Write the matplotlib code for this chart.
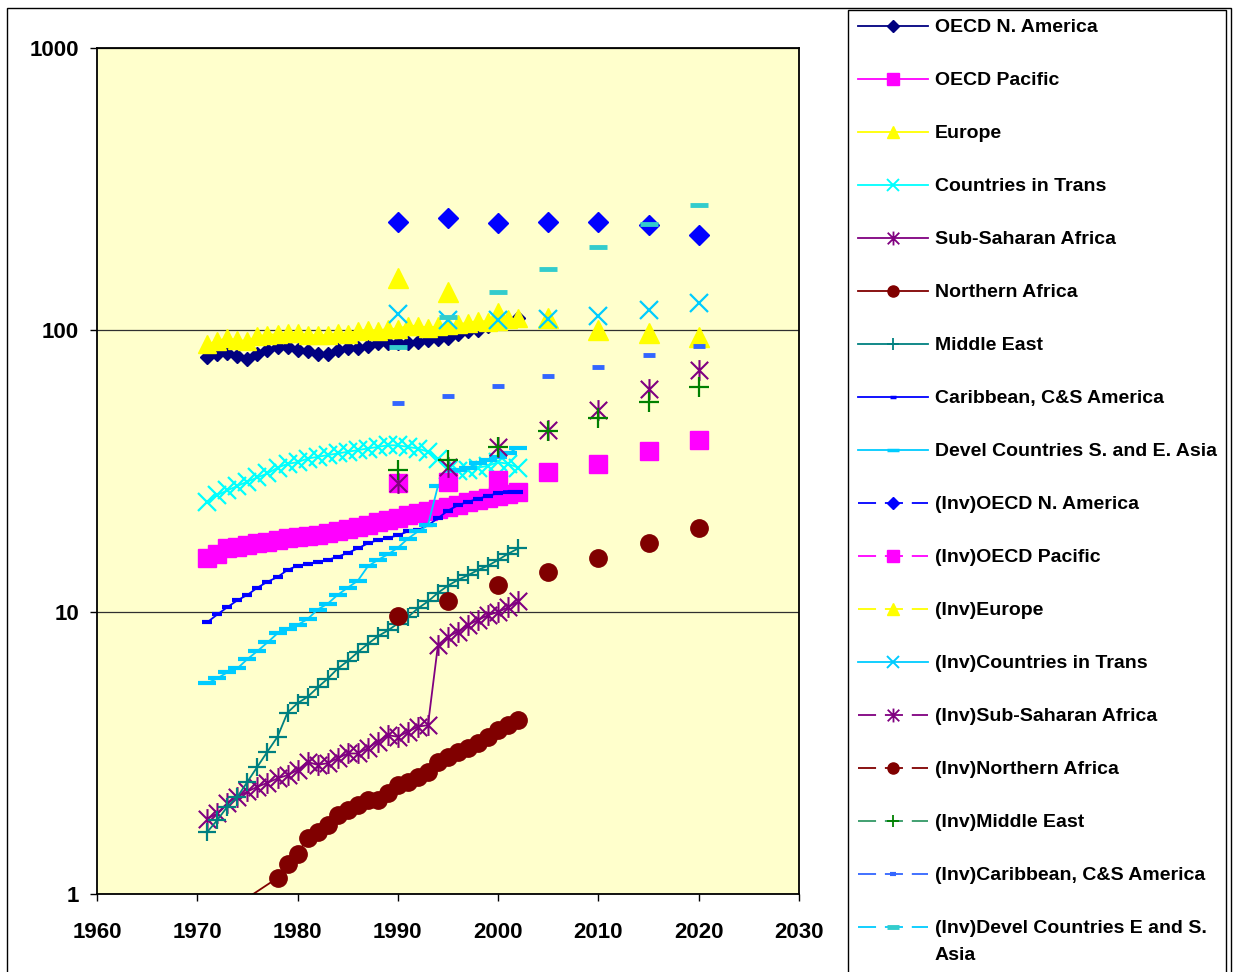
import numpy as np
import matplotlib
matplotlib.use('Agg')
import matplotlib.pyplot as plt
from matplotlib.lines import Line2D
from matplotlib.path import Path
from matplotlib.patches import Rectangle

plt.rcParams['font.family'] = ['Liberation Sans', 'DejaVu Sans']

# historical data, 1971-2002
years = list(range(1971, 2003))
na_hist = [80, 82, 83, 81, 79, 82, 85, 87, 87, 85, 84, 82, 82, 85, 86, 86,
           88, 90, 90, 90, 90, 91, 92, 93, 94, 97, 99, 100, 103, 106, 108, 110]
pac_hist = [15.5, 16, 16.8, 17, 17.3, 17.5, 17.7, 18, 18.3, 18.5, 18.6, 18.8, 19, 19.3, 19.7, 20,
            20.3, 20.8, 21.2, 21.6, 22, 22.4, 22.8, 23.2, 23.6, 24, 24.6, 25, 25.3, 25.8, 26.3, 26.6]
eur_hist = [89, 91.6, 93.5, 92, 91.6, 95.2, 96, 96.8, 97.5, 97.5, 96, 96, 96, 97.5, 97, 99.5,
            100, 99.5, 101, 101, 103.5, 103.5, 102, 103, 104, 105, 106, 108, 107, 108, 109, 110]
cit_hist = [24.5, 26, 27, 28, 29, 30, 31, 32.5, 33.5, 34, 35, 35.5, 36, 36.5, 37, 37.5,
            38, 38.5, 39, 39, 38.5, 38, 37, 35, 32, 31.5, 32, 32.5, 33, 34, 33.5, 32.5]
ssa_hist = [1.85, 1.93, 2.10, 2.21, 2.31, 2.40, 2.48, 2.57, 2.64, 2.75, 2.94, 2.87, 2.91, 3.03, 3.15, 3.15,
            3.29, 3.47, 3.66, 3.61, 3.76, 3.92, 3.97, 7.64, 8.17, 8.52, 9.0, 9.37, 9.75, 10.0, 10.4, 10.9]
naf_years = [1971] + list(range(1978, 2003))
naf_hist = [0.78, 1.14, 1.28, 1.39, 1.58, 1.66, 1.76, 1.91, 1.99, 2.07, 2.15, 2.15, 2.28, 2.44,
            2.50, 2.61, 2.71, 2.94, 3.07, 3.20, 3.29, 3.42, 3.61, 3.82, 3.97, 4.14]
me_hist = [1.66, 1.83, 2.04, 2.21, 2.50, 2.83, 3.2, 3.61, 4.4, 4.75, 5.0, 5.4, 5.8, 6.3, 6.7, 7.2,
           7.7, 8.2, 8.6, 9.1, 9.6, 10.3, 10.9, 11.7, 12.4, 13.0, 13.5, 14.1, 14.6, 15.3, 16.1, 16.8]
car_hist = [9.2, 9.8, 10.4, 11.0, 11.5, 12.2, 12.8, 13.3, 14.1, 14.6, 14.8, 15.0, 15.3, 15.7, 16.2, 16.8,
            17.5, 18.0, 18.3, 18.7, 19.3, 19.5, 20.3, 21.5, 22.9, 23.9, 24.6, 25.2, 25.8, 26.4, 26.6, 26.7]
asia_hist = [5.59, 5.82, 6.11, 6.31, 6.81, 7.27, 7.8, 8.4, 8.68, 9.0, 9.44, 10.2, 10.7, 11.5, 12.2, 12.9,
             14.5, 15.3, 16.0, 16.9, 18.2, 19.3, 20.3, 28.0, 30.5, 31.9, 32.5, 33.7, 34.5, 35.5, 36.5, 38.3]

# (Inv) projections
inv_years = [1990, 1995, 2000, 2005, 2010, 2015, 2020]
na_inv = [242, 249, 239, 242, 242, 236, 217]
pac_inv = [28.6, 29.0, 29.5, 31.4, 33.5, 37.2, 40.7]
eur_inv = [153, 136, 115, 110, 100, 97.3, 94.7]
cit_inv = [114, 108.5, 108.5, 109, 112, 118, 125]
ssa_inv = [28.6, 32.8, 38.4, 44.2, 52.0, 61.6, 72.1]
naf_inv = [9.68, 10.9, 12.5, 13.9, 15.5, 17.6, 19.9]
me_inv = [31.9, 34.6, 38.6, 44.0, 48.6, 55.7, 63.0]
car_inv = [55, 58.5, 63.3, 68.7, 74.1, 81.5, 88]
asia_inv = [86.9, 111.5, 136.8, 164.5, 196.5, 237, 277.5]

labels = ['OECD N. America', 'OECD Pacific', 'Europe', 'Countries in Trans',
          'Sub-Saharan Africa', 'Northern Africa', 'Middle East',
          'Caribbean, C&S America', 'Devel Countries S. and E. Asia',
          '(Inv)OECD N. America', '(Inv)OECD Pacific', '(Inv)Europe',
          '(Inv)Countries in Trans', '(Inv)Sub-Saharan Africa', '(Inv)Northern Africa',
          '(Inv)Middle East', '(Inv)Caribbean, C&S America',
          '(Inv)Devel Countries E and S.']
label_tail = 'Asia'

y_ticks = [1, 10, 100, 1000]
y_labels = ['1', '10', '100', '1000']
x_ticks = [1960, 1970, 1980, 1990, 2000, 2010, 2020, 2030]

W, H = 1237, 972

# excel style asterisk: X plus a vertical bar
star = Path([(-1, -1), (1, 1), (-1, 1), (1, -1), (0, -1.2), (0, 1.2)],
            [Path.MOVETO, Path.LINETO, Path.MOVETO, Path.LINETO, Path.MOVETO, Path.LINETO])

fig = plt.figure(figsize=(W / 100, H / 100), dpi=100)
ax = fig.add_axes([97 / W, 1 - 894 / H, 702 / W, 846 / H])
ax.set_facecolor('#FFFFCC')

lw = 1.3
# historical series
ax.plot(years, na_hist, color='#000080', lw=lw, marker='D', ms=7.5, mec='#000080')
ax.plot(years, pac_hist, color='#FF00FF', lw=lw, marker='s', ms=12.5, mec='#FF00FF')
ax.plot(years, eur_hist, color='#FFFF00', lw=lw, marker='^', ms=13.5, mec='#FFFF00')
ax.plot(years, cit_hist, color='#00FFFF', lw=lw, marker='x', ms=13, mew=1.6)
ax.plot(years, ssa_hist, color='#800080', lw=lw, marker=star, ms=15, mew=1.5)
ax.plot(naf_years, naf_hist, color='#800000', lw=lw, marker='o', ms=12.5)
ax.plot(years, me_hist, color='#008080', lw=lw, marker='+', ms=13, mew=1.6)
ax.plot(years, car_hist, color='#0000FF', lw=lw, marker='_', ms=7.5, mew=3)
ax.plot(years, asia_hist, color='#00CCFF', lw=lw, marker='_', ms=13, mew=3)

# projections, markers only
ax.plot(inv_years, na_inv, ls='none', color='#0000FF', marker='D', ms=10)
ax.plot(inv_years, pac_inv, ls='none', color='#FF00FF', marker='s', ms=12.5)
ax.plot(inv_years, eur_inv, ls='none', color='#FFFF00', marker='^', ms=14)
ax.plot(inv_years, cit_inv, ls='none', color='#00CCFF', marker='x', ms=13, mew=1.6)
ax.plot(inv_years, ssa_inv, ls='none', color='#800080', marker=star, ms=15, mew=1.5)
ax.plot(inv_years, naf_inv, ls='none', color='#800000', marker='o', ms=12.5)
ax.plot(inv_years, me_inv, ls='none', color='#008000', marker='+', ms=14, mew=1.6)
ax.plot(inv_years, car_inv, ls='none', color='#3366FF', marker='_', ms=8, mew=3.5)
ax.plot(inv_years, asia_inv, ls='none', color='#33CCCC', marker='_', ms=13, mew=3.5)

ax.set_yscale('log')
ax.set_ylim(1, 1000)
ax.set_xlim(1960, 2030)
ax.set_yticks(y_ticks)
ax.set_yticklabels(y_labels)
ax.yaxis.set_minor_locator(matplotlib.ticker.NullLocator())
ax.set_xticks(x_ticks)
ax.set_xticklabels([str(x) for x in x_ticks])
ax.tick_params(direction='out', length=5, width=1, labelsize=16)
ax.tick_params(axis='x', pad=15)
ax.tick_params(axis='y', pad=8)
for lab in ax.get_xticklabels() + ax.get_yticklabels():
    lab.set_fontweight('bold')
ax.yaxis.grid(True, color='#303030', lw=0.9)
ax.set_axisbelow(True)
for s in ax.spines.values():
    s.set_linewidth(1.3)

# legend handles
dash = (10, 4.9)
def h(color, marker, ms, ls='-', mfc=None, mew=1.0):
    return Line2D([0], [0], color=color, lw=1.3, ls=ls, marker=marker, ms=ms,
                  mfc=mfc or color, mec=mfc or color, mew=mew,
                  dashes=dash if ls == '--' else (None, None))

handles = [
    h('#000080', 'D', 6),
    h('#FF00FF', 's', 8),
    h('#FFFF00', '^', 9),
    h('#00FFFF', 'x', 8, mew=1.4),
    h('#800080', star, 10, mew=1.3),
    h('#800000', 'o', 8),
    h('#008080', '+', 9, mew=1.3),
    h('#0000FF', '_', 5, mew=2.5),
    h('#00CCFF', '_', 9, mew=2.5),
    h('#0000FF', 'D', 6, ls='--'),
    h('#FF00FF', 's', 8, ls='--'),
    h('#FFFF00', '^', 9, ls='--'),
    h('#00CCFF', 'x', 8, mew=1.4),
    h('#800080', star, 10, ls='--', mew=1.3),
    h('#800000', 'o', 8, ls='--'),
    h('#339966', '+', 9, ls='--', mfc='#008000', mew=1.3),
    h('#3366FF', '_', 5, ls='--', mew=3),
    h('#00CCFF', '_', 9, ls='--', mfc='#33CCCC', mew=3.5),
]

leg = fig.legend(handles, labels, loc='upper left',
                 bbox_to_anchor=(851 / W, 1 - 12 / H), bbox_transform=fig.transFigure,
                 frameon=False, borderaxespad=0, borderpad=0.35, labelspacing=1.82,
                 handlelength=3.6, handletextpad=0.35,
                 prop={'size': 14, 'weight': 'bold'})

# legend frame runs off the bottom of the chart, last label wraps
fig.canvas.draw()
last = leg.get_texts()[-1].get_window_extent()
fig.text(last.x0 / W, (last.y0 - 27) / H, label_tail, fontsize=14, fontweight='bold',
         ha='left', va='bottom')
fig.patches.append(Rectangle((848 / W, -0.01), (1226 - 848) / W, (H - 10) / H + 0.01,
                             transform=fig.transFigure, fill=False, ec='black', lw=1.0))

# outer chart border
fig.patches.append(Rectangle((7 / W, -0.01), 1224 / W, 1 - 8 / H + 0.01,
                             transform=fig.transFigure, fill=False, ec='black', lw=1.0))

fig.savefig('out.png', dpi=100)
